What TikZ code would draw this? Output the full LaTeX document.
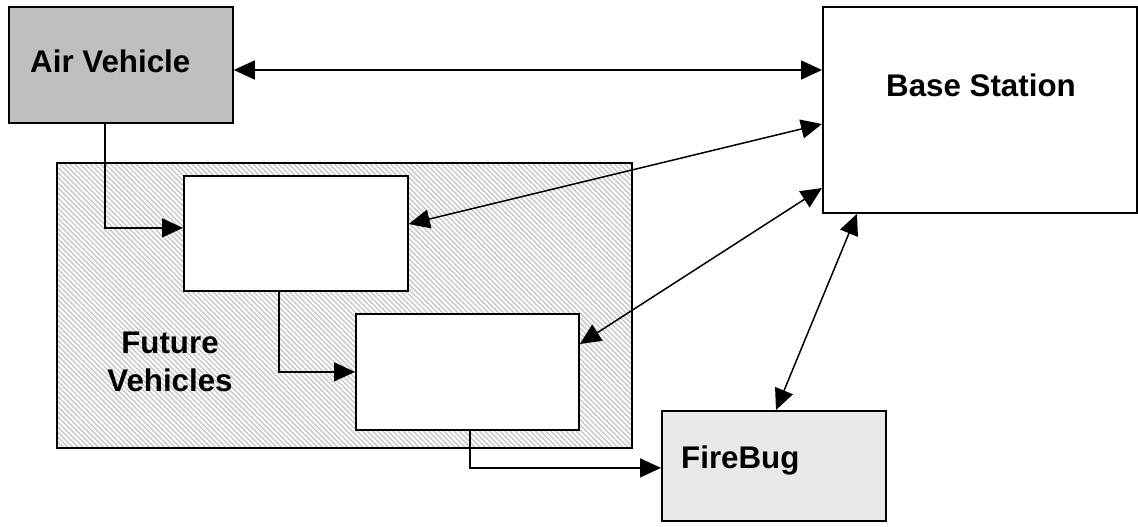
\documentclass[tikz,border=0pt]{standalone}
\usepackage{fontspec}
\setmainfont{Liberation Sans}
\usetikzlibrary{arrows.meta,patterns.meta}
\tikzset{
  blk/.style={draw, line width=1.8pt, inner sep=0pt, anchor=north west},
  lbl/.style={font=\fontsize{31.3}{38}\selectfont\bfseries, inner sep=0pt},
  tip/.style={Triangle[length=21pt,width=19pt]},
  arr/.style={line width=1.5pt, -{Triangle[length=21pt,width=19pt]}},
  darr/.style={line width=1.5pt, {Triangle[length=21pt,width=19pt]}-{Triangle[length=21pt,width=19pt]}},
}
\begin{document}
\begin{tikzpicture}[x=1pt,y=-1pt]
\useasboundingbox (0,0) rectangle (1138,527);

% hatched group of future vehicles
\node[blk, minimum width=575pt, minimum height=285pt, fill=white,
      postaction={pattern={Lines[angle=-45,distance=3.6pt,line width=1.4pt]}, pattern color=black!22}]
  (fv) at (56,162) {};
\node[blk, minimum width=575pt, minimum height=285pt] (fvo) at (56,162) {};

% blocks
\node[blk, fill=black!25, minimum width=224pt, minimum height=116pt] (av) at (8,6) {};
\node[blk, fill=white, minimum width=314pt, minimum height=206pt] (bs) at (822,6) {};
\node[blk, fill=white, minimum width=224pt, minimum height=115pt] (b1) at (183,175) {};
\node[blk, fill=white, minimum width=223pt, minimum height=116pt] (b2) at (355,313) {};
\node[blk, fill=black!9, minimum width=224pt, minimum height=110pt] (fb) at (661,410) {};

% labels
\node[lbl, anchor=base west] (avt) at (30,73) {Air Vehicle};
\node[lbl, anchor=base west] (bst) at (886,96) {Base Station};
\node[lbl, anchor=base west] (fbt) at (681,468) {FireBug};
\node[lbl, align=center] (fvt) at (170,362) {Future\\Vehicles};

% links
\draw[darr] (av.east |- 0,70) -- (bs.west |- 0,70);
\draw[darr] (b1.east |- 0,224) -- (bs.west |- 0,124);
\draw[darr] (b2.east |- 0,344) -- (bs.west |- 0,188);
\draw[darr] (fb.north -| 776,0) -- (bs.south -| 857,0);
\draw[arr] ([xshift=-16pt]av.south) |- ([yshift=5.5pt]b1.west);
\draw[arr] ([xshift=-17pt]b1.south) |- (b2.west);
\draw[arr] ([xshift=2.5pt]b2.south) |- ([yshift=-2pt]fb.west);
\end{tikzpicture}
\end{document}
